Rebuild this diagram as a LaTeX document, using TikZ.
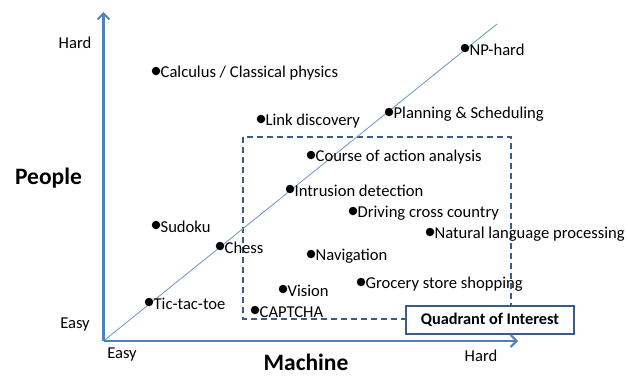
\documentclass[tikz,border=0pt]{standalone}
\usepackage{fontspec}
\setmainfont{Carlito}
\usetikzlibrary{arrows.meta}
\definecolor{axisblue}{HTML}{4F81BD}
\definecolor{boxblue}{HTML}{385D8A}
\begin{document}
\begin{tikzpicture}[x=1pt,y=-1pt,
  axis/.style={draw=axisblue,line width=2.4pt,-{Straight Barb[length=6pt,width=12pt,line width=2pt]}},
  diag/.style={draw=axisblue!85,line width=0.8pt},
  pt/.style={circle,fill=black,inner sep=0pt,minimum size=8.5pt},
  lbl/.style={font=\fontsize{16.6}{18}\selectfont,inner sep=0pt,anchor=west},
  ax/.style={font=\fontsize{16.6}{18}\selectfont,inner sep=0pt},
  title/.style={font=\bfseries\fontsize{23.5}{26}\selectfont,inner sep=0pt}]
\useasboundingbox (0,0) rectangle (628,378);
\coordinate (O) at (103.5,341);
\coordinate (ytip) at (103.5,12);
\coordinate (xtip) at (518,341);
\coordinate (dend) at (497,24);
% dashed quadrant
\draw[boxblue,line width=1.1pt,dash pattern=on 6pt off 4pt] (243,137) rectangle (511,319);
\node[draw=boxblue,line width=1.1pt,fill=white,minimum width=168pt,minimum height=28pt,inner sep=0pt,font=\bfseries\fontsize{16.3}{18}\selectfont] (qi) at (490,320) {Quadrant of Interest};
% diagonal
\draw[diag] (O) -- (dend);
% axes
\draw[axis] (O) -- (ytip);
\draw[axis] (O) -- (xtip);
% axis labels
\node[ax] (yhard) at (75,43) {Hard};
\node[ax] (yeasy) at (75,325) {Easy};
\node[ax] (xeasy) at (122,355) {Easy};
\node[ax] (xhard) at (481,356) {Hard};
\node[title] (people) at (48.5,178) {People};
\node[title] (machine) at (306,362.5) {Machine};
% points
\foreach \n/\x/\y/\t in {
  calc/156/71/{Calculus / Classical physics},
  np/465/48/{NP-hard},
  plan/389/112/{Planning \& Scheduling},
  link/261/119/{Link discovery},
  coa/311/155/{Course of action analysis},
  intr/290/189/{Intrusion detection},
  drive/353/211/{Driving cross country},
  nlp/430/232/{Natural language processing},
  sudoku/156/225/{Sudoku},
  chess/220/246/{Chess},
  nav/311/254/{Navigation},
  groc/361/282/{Grocery store shopping},
  vis/283/289/{Vision},
  captcha/255/310/{CAPTCHA},
  ttt/149/302/{Tic-tac-toe}}{
  \node[pt] (\n) at (\x,\y) {};
  \node[lbl] (\n-l) at ([xshift=0pt,yshift=-2pt]\n.east) {\t};
}
\end{tikzpicture}
\end{document}
